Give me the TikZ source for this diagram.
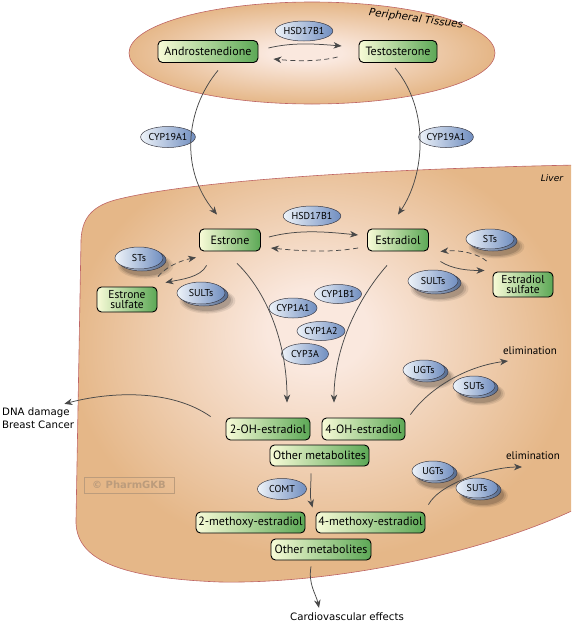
\documentclass[tikz,border=0pt]{standalone}
\usepackage{fontspec}
\setmainfont{PT Sans}
\newfontfamily\comicfont{DejaVu Sans}
\usetikzlibrary{arrows.meta,shapes.geometric,shadows}
\definecolor{tanc}{RGB}{229,183,136}
\definecolor{pinkc}{RGB}{250,232,222}
\definecolor{rimc}{RGB}{190,100,100}
\definecolor{boxL}{RGB}{248,251,215}
\definecolor{boxR}{RGB}{92,168,86}
\definecolor{ovL}{RGB}{238,243,249}
\definecolor{ovR}{RGB}{112,142,192}
\definecolor{ovD}{RGB}{60,60,70}
\definecolor{arrc}{RGB}{72,72,72}
\definecolor{wmc}{RGB}{188,156,124}
\pgfdeclareradialshading{tissue}{\pgfpoint{-1bp}{0bp}}{color(0bp)=(pinkc); color(5bp)=(pinkc); color(25bp)=(tanc); color(50bp)=(tanc)}
\pgfdeclareradialshading{liverish}{\pgfpoint{-1bp}{6bp}}{color(0bp)=(pinkc); color(5bp)=(pinkc); color(25bp)=(tanc); color(50bp)=(tanc)}
\begin{document}
\begin{tikzpicture}[x=1pt,y=-1pt,
  box/.style={draw=black, line width=0.9pt, rounded corners=4.5pt, left color=boxL, right color=boxR,
    minimum height=22pt, inner xsep=2pt, inner ysep=1pt, font=\fontsize{12}{12}\selectfont},
  enz/.style={ellipse, draw=ovD, line width=0.5pt, left color=ovL, right color=ovR, inner sep=0pt,
    minimum width=48pt, minimum height=20pt, font=\fontsize{10}{10}\selectfont},
  enzb/.style={enz, left color=ovL!70!ovR, right color=ovR!75!black,
    drop shadow={shadow xshift=3pt, shadow yshift=-5pt, shadow scale=1.16, opacity=0.08, fill=black},
    drop shadow={shadow xshift=3pt, shadow yshift=-5pt, shadow scale=1.08, opacity=0.1, fill=black},
    drop shadow={shadow xshift=3pt, shadow yshift=-5pt, shadow scale=1.0, opacity=0.14, fill=black}},
  conn/.style={draw=arrc, line width=0.75pt, -{Stealth[length=8pt,width=6.5pt,inset=2.5pt]}},
  dconn/.style={conn, dash pattern=on 5pt off 3.5pt},
  lab/.style={inner sep=0pt, font=\fontsize{11}{12}\selectfont},
  comic/.style={inner sep=0pt, font=\comicfont\fontsize{10.2}{13}\selectfont}
]
\useasboundingbox (0,0) rectangle (571,624);
\clip (0,0) rectangle (571,624);
% backgrounds
\shadedraw[shading=tissue, draw=rimc, line width=0.6pt] (312,53) ellipse [x radius=183, y radius=51];
\shadedraw[shading=liverish, draw=rimc, line width=0.6pt]
  (578,165) .. controls (420,168) and (200,178) .. (115,200)
  .. controls (90,207) and (82,220) .. (81,240) -- (76,520)
  .. controls (75,560) and (120,578) .. (220,582)
  .. controls (330,584) and (480,555) .. (578,508) -- cycle;
% region labels
\node[inner sep=0pt, font=\comicfont\itshape\fontsize{10.4}{12}\selectfont, rotate=-8] (pt) at (416,19) {Peripheral Tissues};
\node[inner sep=0pt, font=\comicfont\itshape\fontsize{9}{12}\selectfont] (liver) at (552,178) {Liver};
\node[draw=wmc, line width=1pt, text=wmc, font=\comicfont\bfseries\fontsize{10}{12}\selectfont,
  minimum width=90pt, minimum height=16pt, inner sep=0pt] (wm) at (129,485) {© PharmGKB};
% metabolites
\node[box, minimum width=100pt] (andro) at (208,51.5) {Androstenedione};
\node[box, minimum width=78pt] (testo) at (398,51.5) {Testosterone};
\node[box, minimum width=61pt] (estrone) at (230,240) {Estrone};
\node[box, minimum width=61pt] (estradiol) at (398,240) {Estradiol};
\node[box, minimum width=60pt, minimum height=25pt, align=center, font=\fontsize{11.5}{10.5}\selectfont] (e1s) at (127,299.5) {Estrone\\sulfate};
\node[box, minimum width=60pt, minimum height=25pt, align=center, font=\fontsize{11.5}{10.5}\selectfont] (e2s) at (523,284.5) {Estradiol\\sulfate};
\node[box, minimum width=84pt] (oh2) at (268,429) {2-OH-estradiol};
\node[box, minimum width=83pt] (oh4) at (363.5,429) {4-OH-estradiol};
\node[box, minimum width=99pt, minimum height=21pt] (om1) at (319.5,455.5) {Other metabolites};
\node[box, minimum width=109pt, minimum height=21pt] (me2) at (250.5,522.5) {2-methoxy-estradiol};
\node[box, minimum width=109pt, minimum height=21pt] (me4) at (370.5,522.5) {4-methoxy-estradiol};
\node[box, minimum width=100pt, minimum height=21pt] (om2) at (321,549.5) {Other metabolites};
% enzymes (single)
\node[enz, minimum width=49pt] (hsdT) at (304,31) {HSD17B1};
\node[enz, minimum width=50pt, minimum height=21pt] (cypL) at (168,137) {CYP19A1};
\node[enz, minimum width=48pt, minimum height=21pt] (cypR) at (446,137) {CYP19A1};
\node[enz, minimum width=49pt] (hsdM) at (312,216) {HSD17B1};
\node[enz, minimum width=47pt, minimum height=19pt] (cyp1b1) at (338,294) {CYP1B1};
\node[enz, minimum width=48pt] (cyp1a1) at (293,308) {CYP1A1};
\node[enz, minimum width=48pt, minimum height=19pt] (cyp1a2) at (321,331) {CYP1A2};
\node[enz, minimum width=47pt, minimum height=21pt] (cyp3a) at (305,354) {CYP3A};
\node[enz, minimum width=49pt, minimum height=21pt] (comt) at (282,489) {COMT};
% enzymes (stacked)
\node[enzb, minimum height=22pt] (stsLb) at (142,260) {};
\node[enz, minimum height=22pt] (stsL) at (139,258) {STs};
\node[enzb, minimum height=22pt] (sultLb) at (204,295) {};
\node[enz, minimum height=22pt] (sultL) at (201,293) {SULTs};
\node[enzb] (stsRb) at (493,241) {};
\node[enz] (stsR) at (490,239) {STs};
\node[enzb, minimum width=50pt, minimum height=22pt] (sultRb) at (436,283) {};
\node[enz, minimum width=50pt, minimum height=22pt] (sultR) at (433,281) {SULTs};
\node[enzb, minimum width=42pt] (ugt1b) at (427,372) {};
\node[enz, minimum width=42pt] (ugt1) at (424,370) {UGTs};
\node[enzb, minimum width=42pt] (sut1b) at (477,388) {};
\node[enz, minimum width=42pt] (sut1) at (474,386) {SUTs};
\node[enzb, minimum width=42pt] (ugt2b) at (436,473) {};
\node[enz, minimum width=42pt] (ugt2) at (433,471) {UGTs};
\node[enzb, minimum width=42pt] (sut2b) at (480,490) {};
\node[enz, minimum width=42pt] (sut2) at (477,488) {SUTs};
% outcome labels
\node[comic, anchor=west, align=left] (dna) at (2,418.5) {DNA damage\\Breast Cancer};
\node[lab] (elim1) at (530,351) {elimination};
\node[lab] (elim2) at (533,456) {elimination};
\node[comic] (cardio) at (347,617) {Cardiovascular effects};
% connectors
\draw[conn] ([shift={(10,-3.5)}]andro.east) .. controls +(25,-6) and +(-25,-2) .. ([shift={(-17,-5.5)}]testo.west);
\draw[dconn] ([shift={(-21,5.5)}]testo.west) .. controls +(-20,5) and +(20,2) .. ([shift={(15,7.5)}]andro.east);
\draw[conn] ([shift={(10,7.5)}]andro.south) .. controls (185,110) and (180,170) .. ([shift={(-13,-14)}]estrone.north);
\draw[conn] ([shift={(-3,5)}]testo.south) .. controls (430,110) and (425,175) .. ([shift={(0,-14)}]estradiol.north);
\draw[conn] ([shift={(8,-3)}]estrone.east) .. controls +(30,-8) and +(-30,-3) .. ([shift={(-9,-5)}]estradiol.west);
\draw[dconn] ([shift={(-9,8)}]estradiol.west) .. controls +(-30,5) and +(30,3) .. ([shift={(10,8)}]estrone.east);
\draw[dconn] ([shift={(31,-10)}]e1s.north) .. controls +(8,-10) and +(-15,3) .. ([shift={(-3,6)}]estrone.south west);
\draw[conn] ([shift={(7.5,14)}]estrone.south west) .. controls +(-6,12) and +(15,-3) .. ([shift={(8,-4)}]e1s.north east);
\draw[dconn] ([shift={(-6,-10.5)}]e2s.north west) .. controls +(-8,-7) and +(20,-2) .. ([shift={(11.5,0)}]estradiol.south east);
\draw[conn] ([shift={(11.5,10)}]estradiol.south east) .. controls +(12,8) and +(-15,0) .. ([shift={(-8,-14)}]e2s.west);
\draw[conn] ([shift={(7,12)}]estrone.south) .. controls (265,290) and (287,340) .. ([shift={(19,-15)}]oh2.north);
\draw[conn] ([shift={(-11,14)}]estradiol.south) .. controls (365,290) and (334,340) .. ([shift={(-29.5,-15)}]oh4.north);
\draw[conn] ([shift={(-15,-1)}]oh2.north west) .. controls +(-40,-28) and +(45,-12) .. ([shift={(-10,-4)}]dna.north east);
\draw[conn] ([shift={(5,-3)}]oh4.north east) .. controls +(20,-28) and +(-40,5) .. ([shift={(-22,10)}]elim1.center);
\draw[conn] ([shift={(-8.5,7)}]om1.south) .. controls +(0,16) and +(-3,-12) .. ([shift={(-3,-4)}]me4.north west);
\draw[conn] ([shift={(-10,6)}]om2.south) .. controls +(-3,18) and +(-3,-14) .. ([shift={(-28,-5)}]cardio.north);
\draw[conn] ([shift={(3,-7)}]me4.north east) .. controls +(12,-22) and +(-30,0) .. ([shift={(-11,11)}]elim2.center);
\end{tikzpicture}
\end{document}
